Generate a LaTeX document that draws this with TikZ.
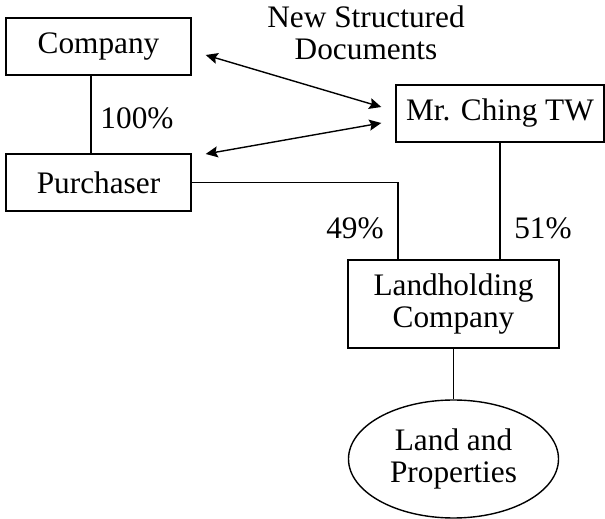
\documentclass[tikz,border=0pt]{standalone}
\usepackage{fontspec}
\setmainfont{Liberation Serif}
\usetikzlibrary{arrows.meta}
\usetikzlibrary{shapes}

\begin{document}
\begin{tikzpicture}[x=1pt, y=1pt, line width=1.4pt,
  every node/.style={font=\fontsize{31.3}{32}\selectfont},
  box/.style={draw, rectangle, inner sep=0pt, minimum height=57pt, align=center},
  link/.style={>={Stealth[length=12pt, width=11pt, inset=2pt]}, <->}]
 \useasboundingbox (0,0) rectangle (605,519);
 \node[name=company, box, minimum width=185pt] at (98.5,472.5) {Company};
 \node[name=purchaser, box, minimum width=185pt, below of=company, node distance=136pt] {Purchaser};
 \node[name=ching, box, minimum width=208pt] at (500,405.5) {Mr. Ching TW};
 \node[name=holding, box, minimum width=211pt, minimum height=88pt] at (453.5,215) {Landholding\\Company};
 \node[name=land, draw, ellipse, inner sep=0pt, minimum width=210pt, minimum height=118pt, align=center, below of=holding, node distance=155pt] {Land and\\Properties};
 \node[name=docs, align=center] at (366,486.2) {New Structured\\Documents};
 \node[name=hundred] at (137,401) {100\%};
 \node[name=fortynine] at (355,291) {49\%};
 \node[name=fiftyone] at (543,291) {51\%};

 \draw[link] ([shift={(14pt,-8.5pt)}]company.east) -- ([shift={(-14pt,6.5pt)}]ching.west);
 \draw[link] ([shift={(14pt,28.5pt)}]purchaser.east) -- ([shift={(-14pt,-9.5pt)}]ching.west);
 \draw ([xshift=-7.5pt]company.south) -- ([xshift=-7.5pt]purchaser.north);
 \draw (purchaser.east) -| ([xshift=-55.5pt]holding.north);
 \draw (ching.south) -- (ching.south |- holding.north);
 \draw (holding.south) -- (land.north);
\end{tikzpicture}
\end{document}
